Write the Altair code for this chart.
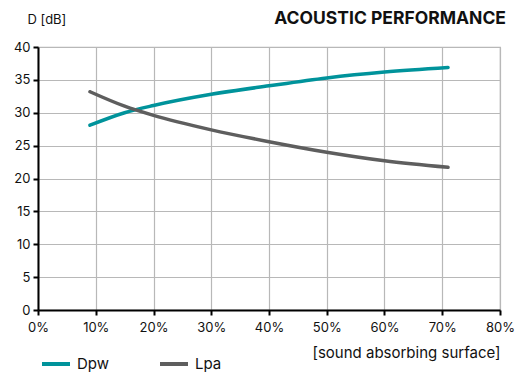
import altair as alt
import pandas as pd

surface = [9, 15, 20, 30, 40, 50, 60, 71]
dpw = [28.1, 30.0, 31.1, 32.8, 34.1, 35.3, 36.2, 36.9]
lpa = [33.2, 31.0, 29.6, 27.4, 25.6, 24.0, 22.7, 21.7]
series_names = ["Dpw", "Lpa"]
series_colors = ["#00939b", "#5e5e5e"]

rows = []
for s, a, b in zip(surface, dpw, lpa):
    rows.append({"x": s / 100, "D": a, "series": "Dpw"})
    rows.append({"x": s / 100, "D": b, "series": "Lpa"})
df = pd.DataFrame(rows)

FONT = "Inter"

chart = alt.Chart(df).mark_line(interpolate="monotone", strokeWidth=3.5, strokeCap="round").encode(
    x=alt.X("x:Q", scale=alt.Scale(domain=[0, 0.8], nice=False),
            axis=alt.Axis(format=".0%", values=[i / 10 for i in range(9)], labelFlush=False,
                          title="[sound absorbing surface]", titleAnchor="end", titleAlign="right",
                          titleFontWeight="normal", titleFontSize=15, titlePadding=11,
                          titleColor="#111", labelPadding=6, labelFontSize=13)),
    y=alt.Y("D:Q", scale=alt.Scale(domain=[0, 40], nice=False),
            axis=alt.Axis(values=list(range(0, 41, 5)), title="D [dB]", titleAngle=0, labelFlush=False,
                          titleAlign="left", titleBaseline="alphabetic", titleX=-11, titleY=-24,
                          titleFontWeight="normal", titleFontSize=13, titleColor="#111",
                          labelPadding=3, labelFontSize=13)),
    color=alt.Color("series:N", scale=alt.Scale(domain=series_names, range=series_colors),
                    legend=alt.Legend(title=None, orient="none", direction="horizontal",
                                      legendX=2, legendY=301, symbolType="stroke",
                                      symbolSize=784, symbolStrokeWidth=4,
                                      labelFontSize=15, labelColor="#111", labelOffset=5,
                                      columnPadding=42)),
).properties(
    width=462, height=263,
    title=alt.TitleParams("ACOUSTIC PERFORMANCE", anchor="end", frame="group", fontSize=17.5,
                          fontWeight="bold", color="#111", font=FONT, offset=-14, dx=6),
    padding={"left": 30, "top": 39, "right": 15, "bottom": 63},
    autosize="none",
).configure(font=FONT).configure_axis(
    domainColor="#000", domainWidth=2, tickColor="#000", tickWidth=2, tickSize=5,
    gridColor="#b8b8b8", gridWidth=1.2, labelColor="#111", labelFont=FONT, titleFont=FONT,
).configure_view(stroke="#b8b8b8", strokeWidth=1.2).configure_legend(labelFont=FONT)

chart.save("out.html", embed_options={"renderer": "svg", "actions": False})
